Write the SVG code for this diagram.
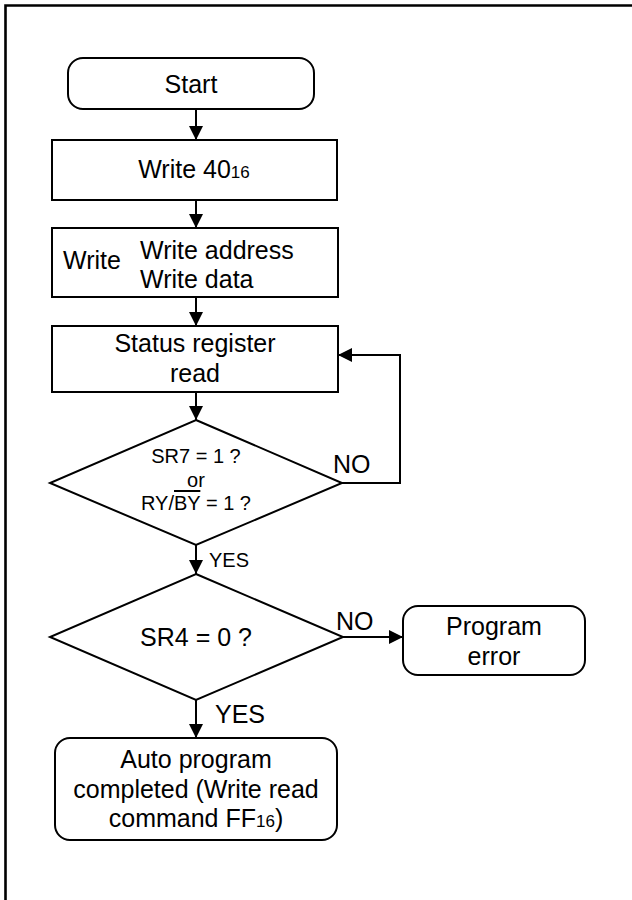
<svg xmlns="http://www.w3.org/2000/svg" width="632" height="900" viewBox="0 0 632 900">
<style>
  .box { fill: #fff; stroke: #000; stroke-width: 2; }
  .ln { fill: none; stroke: #000; stroke-width: 2; }
  .frame { fill: none; stroke: #000; stroke-width: 2.6; }
  text { font-family: "Liberation Sans", Arial, sans-serif; fill: #000; }
  .t { font-size: 25px; text-anchor: middle; }
  .tl { font-size: 25px; }
  .s { font-size: 20px; text-anchor: middle; }
  .sub { font-size: 17px; }
</style>
<defs>
  <marker id="ah" markerUnits="userSpaceOnUse" markerWidth="15" markerHeight="14" refX="14" refY="7" orient="auto">
    <path d="M0,0 L14,7 L0,14 z" fill="#000"/>
  </marker>
</defs>
<rect width="632" height="900" fill="#fff"/>
<g id="frame">
  <path class="frame" d="M5.5,900 V5.5 H632"/>
</g>
<g id="connectors">
  <path class="ln" d="M196,109 V140" marker-end="url(#ah)"/>
  <path class="ln" d="M196,200 V228" marker-end="url(#ah)"/>
  <path class="ln" d="M196,297 V326" marker-end="url(#ah)"/>
  <path class="ln" d="M196,392 V420" marker-end="url(#ah)"/>
  <path class="ln" d="M342,483 H400 V355 H338" marker-end="url(#ah)"/>
  <path class="ln" d="M196,545 V574" marker-end="url(#ah)"/>
  <path class="ln" d="M343,637 H403" marker-end="url(#ah)"/>
  <path class="ln" d="M196,700 V738" marker-end="url(#ah)"/>
  <text class="tl" x="333" y="473">NO</text>
  <text x="209" y="567" style="font-size:20px">YES</text>
  <text class="tl" x="336" y="630">NO</text>
  <text class="tl" x="215" y="723">YES</text>
</g>
<g id="start">
  <rect class="box" x="68" y="58" width="246" height="51" rx="15"/>
  <text class="t" x="191" y="93">Start</text>
</g>
<g id="write40">
  <rect class="box" x="52" y="140" width="285" height="60"/>
  <text class="t" x="194" y="178">Write 40<tspan class="sub">16</tspan></text>
</g>
<g id="writeaddr">
  <rect class="box" x="52" y="228" width="286" height="69"/>
  <text class="tl" x="63" y="269">Write</text>
  <text class="tl" x="140" y="259">Write address</text>
  <text class="tl" x="140" y="288">Write data</text>
</g>
<g id="status">
  <rect class="box" x="52" y="326" width="286" height="66"/>
  <text class="t" x="195" y="352">Status register</text>
  <text class="t" x="195" y="382">read</text>
</g>
<g id="decision1">
  <polygon class="box" points="196,420 342,483 196,545 50,483"/>
  <text class="s" x="196" y="463">SR7 = 1 ?</text>
  <text class="s" x="196" y="487">or</text>
  <text class="s" x="196" y="510">RY/<tspan style="text-decoration:overline">BY</tspan> = 1 ?</text>
</g>
<g id="decision2">
  <polygon class="box" points="196,574 343,637 196,700 50,637"/>
  <text class="t" x="196" y="646">SR4 = 0 ?</text>
</g>
<g id="progerror">
  <rect class="box" x="403" y="606" width="182" height="69" rx="15"/>
  <text class="t" x="494" y="635">Program</text>
  <text class="t" x="494" y="665">error</text>
</g>
<g id="done">
  <rect class="box" x="55" y="738" width="282" height="102" rx="15"/>
  <text class="t" x="196" y="768">Auto program</text>
  <text class="t" x="196" y="798">completed (Write read</text>
  <text class="t" x="196" y="827">command FF<tspan class="sub">16</tspan>)</text>
</g>
</svg>
